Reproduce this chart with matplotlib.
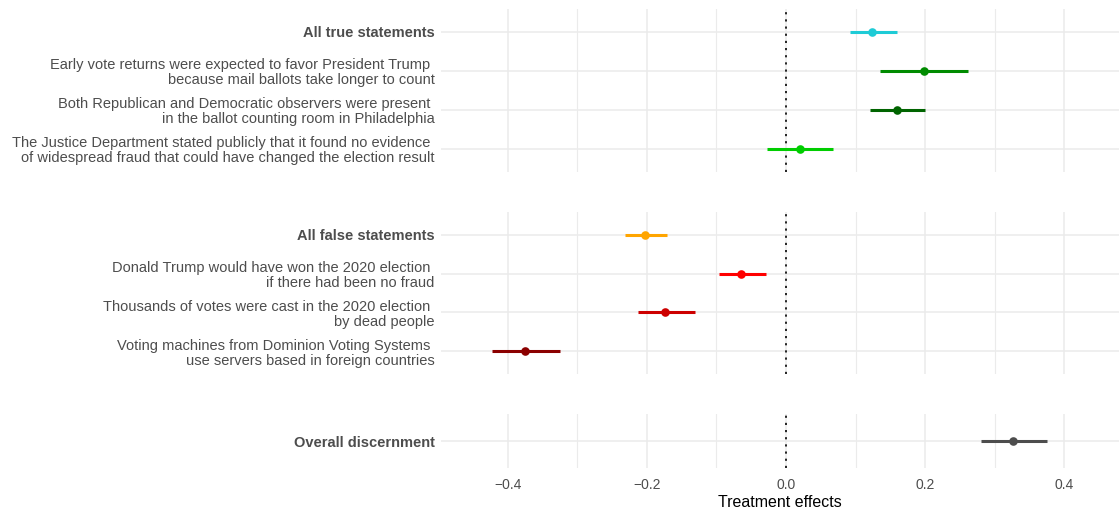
import matplotlib
matplotlib.use("Agg")
import matplotlib.pyplot as plt

plt.rcParams['font.family'] = ['Liberation Sans', 'DejaVu Sans']

# ---- data ----
true_labels = [
    "All true statements",
    "Early vote returns were expected to favor President Trump \nbecause mail ballots take longer to count",
    "Both Republican and Democratic observers were present \nin the ballot counting room in Philadelphia",
    "The Justice Department stated publicly that it found no evidence \nof widespread fraud that could have changed the election result",
]
true_est = [0.124, 0.198, 0.159, 0.020]
true_lo = [0.092, 0.135, 0.120, -0.027]
true_hi = [0.159, 0.262, 0.200, 0.068]
true_colors = ["#1ECBD6", "#008B00", "#006400", "#00CD00"]

false_labels = [
    "All false statements",
    "Donald Trump would have won the 2020 election \nif there had been no fraud",
    "Thousands of votes were cast in the 2020 election \nby dead people",
    "Voting machines from Dominion Voting Systems \nuse servers based in foreign countries",
]
false_est = [-0.202, -0.064, -0.174, -0.375]
false_lo = [-0.231, -0.097, -0.213, -0.422]
false_hi = [-0.171, -0.029, -0.131, -0.325]
false_colors = ["#FFA500", "#FF0000", "#CD0000", "#8B0000"]

overall_labels = ["Overall discernment"]
overall_est = [0.326]
overall_lo = [0.280]
overall_hi = [0.375]
overall_colors = ["#4D4D4D"]

bold_labels = {"All true statements", "All false statements", "Overall discernment"}

x_ticks = [-0.4, -0.2, 0.0, 0.2, 0.4]
x_tick_labels = ["\u22120.4", "\u22120.2", "0.0", "0.2", "0.4"]
x_minor = [-0.3, -0.1, 0.1, 0.3]
x_label = "Treatment effects"

# ---- layout ----
W, H = 1119, 508
fig = plt.figure(figsize=(W / 100, H / 100), dpi=100)

left_px, right_px = 441, 1119
panels_px = [(9, 171.7), (211.7, 374.3), (414.3, 468.3)]
xlim = (-0.4957, 0.4784)

groups = [
    (true_labels, true_est, true_lo, true_hi, true_colors),
    (false_labels, false_est, false_lo, false_hi, false_colors),
    (overall_labels, overall_est, overall_lo, overall_hi, overall_colors),
]

grid_c = "#EBEBEB"
txt_c = "#4D4D4D"

axes = []
for (top, bot), (labels, est, lo, hi, cols) in zip(panels_px, groups):
    ax = fig.add_axes([left_px / W, 1 - bot / H, (right_px - left_px) / W, (bot - top) / H])
    n = len(labels)
    ys = list(range(1, n + 1))
    if n == 1:
        ax.set_ylim(1.6, 0.4)
    else:
        ax.set_ylim(n + 0.585, 0.415)
    ax.set_xlim(*xlim)
    for s in ax.spines.values():
        s.set_visible(False)
    ax.set_xticks(x_ticks)
    ax.set_xticks(x_minor, minor=True)
    ax.set_yticks(ys)
    ax.set_yticklabels(labels, fontsize=10.5, color=txt_c, linespacing=1.08)
    for lab in ax.get_yticklabels():
        if lab.get_text() in bold_labels:
            lab.set_fontweight("bold")
    ax.tick_params(axis="y", length=0, pad=4.5)
    ax.tick_params(axis="x", which="both", length=0)
    ax.grid(True, which="major", color=grid_c, linewidth=1.1)
    ax.grid(True, which="minor", axis="x", color=grid_c, linewidth=0.8)
    ax.set_axisbelow(True)
    ax.axvline(0, color="black", linestyle=(0, (1.3, 3.0)), linewidth=1.2, zorder=2)
    for y, e, l, h, c in zip(ys, est, lo, hi, cols):
        ax.plot([l, h], [y, y], color=c, linewidth=2.2, solid_capstyle="butt", zorder=3)
        ax.plot([e], [y], marker="o", markersize=6.2, color=c, markeredgewidth=0, zorder=4)
    axes.append(ax)

for ax in axes[:-1]:
    ax.tick_params(axis="x", labelbottom=False)
axes[-1].tick_params(axis="x", labelsize=10, labelcolor=txt_c, pad=7)
axes[-1].set_xticklabels(x_tick_labels)
axes[-1].set_xlabel(x_label, fontsize=11.5, color="black", labelpad=2)

fig.savefig("out.png", dpi=100)
